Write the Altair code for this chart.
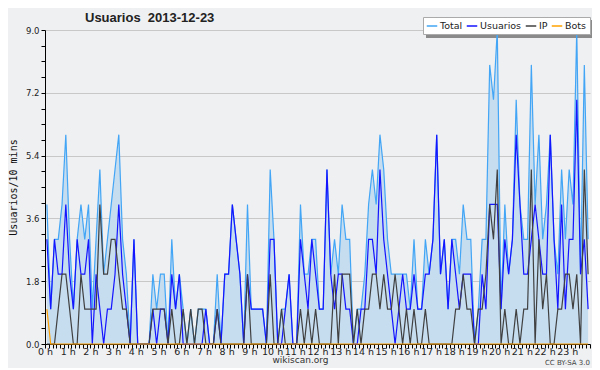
import altair as alt
import pandas as pd

# 10-minute slots, 0 h .. 23 h 50
total = [4, 1, 3, 3, 4, 6, 3, 1, 3, 4, 3, 4,
         1, 3, 5, 2, 3, 4, 5, 6, 3, 2, 0, 3,
         0, 0, 0, 0, 2, 1, 2, 2, 0, 3, 1, 2,
         1, 0, 1, 0, 1, 1, 1, 0, 0, 2, 0, 2,
         2, 4, 3, 2, 0, 4, 1, 1, 1, 1, 0, 5,
         3, 0, 1, 1, 2, 0, 0, 4, 2, 2, 3, 3,
         1, 1, 5, 2, 3, 2, 4, 3, 3, 0, 1, 1,
         2, 4, 5, 4, 6, 5, 3, 2, 2, 2, 2, 2,
         1, 3, 1, 1, 3, 2, 3, 6, 2, 3, 1, 3,
         3, 2, 4, 3, 3, 0, 1, 3, 3, 8, 7, 9,
         1, 4, 2, 3, 7, 4, 3, 3, 8, 4, 6, 3,
         4, 6, 3, 2, 5, 3, 5, 4, 9, 2, 8, 3]
usuarios = [3, 1, 3, 2, 2, 4, 2, 1, 3, 2, 2, 3,
            0, 2, 1, 0, 1, 1, 2, 4, 2, 1, 0, 3,
            0, 0, 0, 0, 1, 0, 1, 1, 0, 2, 1, 2,
            0, 0, 0, 0, 0, 0, 1, 0, 0, 1, 0, 2,
            2, 4, 3, 2, 0, 2, 1, 1, 1, 1, 0, 3,
            3, 0, 0, 1, 2, 0, 0, 3, 2, 1, 3, 2,
            1, 1, 5, 2, 1, 2, 2, 1, 1, 0, 0, 1,
            1, 3, 3, 2, 5, 3, 2, 1, 0, 1, 2, 1,
            1, 2, 1, 1, 2, 2, 3, 6, 2, 3, 1, 3,
            2, 1, 2, 2, 2, 0, 0, 2, 1, 4, 4, 4,
            1, 3, 2, 3, 6, 4, 2, 2, 3, 4, 3, 2,
            2, 6, 3, 1, 4, 1, 3, 3, 7, 2, 3, 1]
ip = [0, 0, 0, 1, 2, 2, 1, 0, 0, 2, 1, 1,
      1, 1, 4, 2, 2, 3, 3, 2, 1, 1, 0, 0,
      0, 0, 0, 0, 1, 1, 1, 1, 0, 1, 0, 0,
      1, 0, 1, 0, 1, 1, 0, 0, 0, 1, 0, 0,
      0, 0, 0, 0, 0, 2, 0, 0, 0, 0, 0, 2,
      0, 0, 1, 0, 0, 0, 0, 1, 0, 1, 0, 1,
      0, 0, 0, 0, 2, 0, 2, 2, 2, 0, 1, 0,
      1, 1, 2, 2, 1, 2, 1, 1, 2, 1, 0, 1,
      0, 1, 0, 0, 1, 0, 0, 0, 0, 0, 0, 0,
      1, 1, 2, 1, 1, 0, 1, 1, 2, 4, 3, 5,
      0, 1, 0, 0, 1, 0, 1, 1, 5, 0, 3, 1,
      2, 0, 0, 1, 1, 2, 2, 1, 2, 0, 5, 2]
bots = [1, 0, 0, 0, 0, 0, 0, 0, 0, 0, 0, 0,
        0, 0, 0, 0, 0, 0, 0, 0, 0, 0, 0, 0,
        0, 0, 0, 0, 0, 0, 0, 0, 0, 0, 0, 0,
        0, 0, 0, 0, 0, 0, 0, 0, 0, 0, 0, 0,
        0, 0, 0, 0, 0, 0, 0, 0, 0, 0, 0, 0,
        0, 0, 0, 0, 0, 0, 0, 0, 0, 0, 0, 0,
        0, 0, 0, 0, 0, 0, 0, 0, 0, 0, 0, 0,
        0, 0, 0, 0, 0, 0, 0, 0, 0, 0, 0, 0,
        0, 0, 0, 0, 0, 0, 0, 0, 0, 0, 0, 0,
        0, 0, 0, 0, 0, 0, 0, 0, 0, 0, 0, 0,
        0, 0, 0, 0, 0, 0, 0, 0, 0, 0, 0, 0,
        0, 0, 0, 0, 0, 0, 0, 0, 0, 0, 0, 0]

series = ["Total", "Usuarios", "IP", "Bots"]
colors = ["#42a5f5", "#1414ff", "#404040", "#ffa000"]
title_text = "Usuarios\u00a0 2013-12-23"
footer_text = "CC BY-SA 3.0"

hours = [(i + 0.5) / 6 for i in range(len(total))]  # slot middle, in hours
wide = pd.DataFrame({"t": hours, "Total": total, "Usuarios": usuarios,
                     "IP": ip, "Bots": bots})
long = wide.melt("t", var_name="serie", value_name="valor")

xticks = [k / 6 for k in range(145)]
yticks = [round(k * 0.45, 2) for k in range(21)]

FONT = "DejaVu Sans"

x = alt.X("t:Q", scale=alt.Scale(domain=[0, 24], nice=False, zero=False),
          axis=alt.Axis(values=xticks, grid=False, tickSize=4,
                        labelExpr="abs(datum.value - round(datum.value)) < 0.001 && datum.value < 23.5 ? round(datum.value) + ' h' : ''",
                        labelOverlap=False, labelFlush=False, labelPadding=-2,
                        labelFont=FONT, labelFontSize=9.5, labelColor="#222",
                        title="wikiscan.org", titleFont=FONT, titleFontSize=9,
                        titleFontWeight="normal", titleColor="#333",
                        titlePadding=0, titleX=255, titleAlign="center"))
y = alt.Y("valor:Q", scale=alt.Scale(domain=[0, 9], nice=False),
          axis=alt.Axis(values=yticks, tickSize=4,
                        labelExpr="abs(datum.value/1.8 - round(datum.value/1.8)) < 0.001 ? format(datum.value, '.1f') : ''",
                        gridColor={"condition": {"test": "abs(datum.value/1.8 - round(datum.value/1.8)) < 0.001 && datum.value > 0.1",
                                                 "value": "#c8c8c8"},
                                   "value": "transparent"},
                        labelFont=FONT, labelFontSize=8.5, labelColor="#222",
                        labelPadding=2,
                        title="Usuarios/10 mins", titleFont="DejaVu Sans Mono",
                        titleFontSize=10, titleFontWeight="normal",
                        titleColor="#111", titlePadding=7))

base = alt.Chart(long)

area = base.transform_filter(alt.datum.serie == "Total").mark_area(
    color="#c6ddf0", interpolate="linear").encode(x=x, y=y)

color = alt.Color("serie:N", scale=alt.Scale(domain=series, range=colors),
                  legend=alt.Legend(orient="none", legendX=378, legendY=-13,
                                    direction="horizontal", columns=4,
                                    gridAlign="none",
                                    title=None, symbolType="stroke",
                                    symbolSize=110, symbolStrokeWidth=1.5,
                                    labelFont=FONT, labelFontSize=9.5,
                                    labelColor="#222", labelOffset=2,
                                    columnPadding=0, padding=3,
                                    fillColor="white", strokeColor="#aaaaaa"))

layers = [area]
for s in series:
    layers.append(base.transform_filter(alt.datum.serie == s).mark_line(
        strokeWidth=1.2, interpolate="linear").encode(x=x, y=y, color=color))

texts = pd.DataFrame({"title": [title_text], "footer": [footer_text]})
shadow = alt.Chart(texts).mark_rect(color="#8a8a8a").encode(
    x=alt.value(381), x2=alt.value(548), y=alt.value(-10), y2=alt.value(8))
note = alt.Chart(texts).mark_text(
    align="right", baseline="alphabetic", font=FONT, fontSize=7,
    color="#444").encode(text="footer:N", x=alt.value(545), y=alt.value(335))
head = alt.Chart(texts).mark_text(
    align="left", baseline="alphabetic", font="Liberation Sans", fontSize=13,
    fontWeight="bold", color="#222").encode(
    text="title:N", x=alt.value(40), y=alt.value(-8))
layers = [shadow] + layers + [note, head]

chart = alt.layer(*layers).properties(
    width=545, height=314,
    background="#eff0f2",
    padding={"left": 37, "top": 22, "right": 2, "bottom": 24},
    autosize="none",
).configure_view(stroke=None).configure_axis(
    domainColor="black", tickColor="black", zindex=1)

chart.save("out.html", embed_options={"renderer": "svg", "actions": False})
